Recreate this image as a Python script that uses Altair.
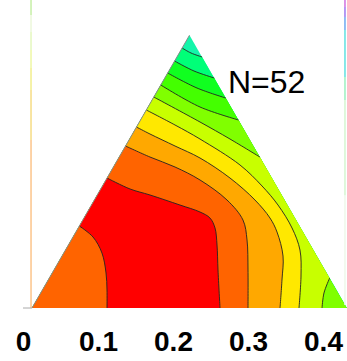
import altair as alt
import pandas as pd

# ---- triangle corners (composition units) ----
TRI_U = [0.0, 0.21, 0.42]
TRI_V = [0.0, 0.3637, 0.0]

# ---- contour lines (u = composition, v = height) ----
AB_U = [0.2001, 0.2120, 0.2268]
AB_V = [0.3467, 0.3400, 0.3347]
BC_U = [0.1901, 0.2160, 0.2430]
BC_V = [0.3293, 0.3160, 0.3067]
CD_U = [0.1809, 0.2200, 0.2583]
CD_V = [0.3133, 0.2933, 0.2800]
DE_U = [0.1717, 0.2240, 0.2753]
DE_V = [0.2973, 0.2680, 0.2507]
EF_U = [0.1624, 0.2240, 0.2640, 0.3038]
EF_V = [0.2813, 0.2480, 0.2253, 0.2013]
EF2_U = [0.3969, 0.3893, 0.3867]
EF2_V = [0.0400, 0.0200, 0.0000]
FG_U = [0.1524, 0.1907, 0.2240, 0.2773, 0.3067, 0.3280, 0.3467, 0.3573, 0.3587, 0.3560]
FG_V = [0.2640, 0.2440, 0.2253, 0.1907, 0.1627, 0.1373, 0.1067, 0.0773, 0.0440, 0.0000]
GH_U = [0.1393, 0.1573, 0.1907, 0.2240, 0.2640, 0.2973, 0.3173, 0.3267, 0.3347, 0.3333, 0.3307]
GH_V = [0.2413, 0.2320, 0.2160, 0.2000, 0.1733, 0.1440, 0.1200, 0.1013, 0.0693, 0.0373, 0.0000]
HI_U = [0.1247, 0.1573, 0.1907, 0.2240, 0.2600, 0.2813, 0.2867, 0.2880, 0.2880]
HI_V = [0.2160, 0.2013, 0.1880, 0.1707, 0.1440, 0.1173, 0.0907, 0.0507, 0.0000]
IJ_U = [0.1001, 0.1307, 0.1573, 0.1973, 0.2240, 0.2373, 0.2440, 0.2467, 0.2480, 0.2507]
IJ_V = [0.1733, 0.1587, 0.1507, 0.1373, 0.1280, 0.1200, 0.1067, 0.0840, 0.0507, 0.0000]
JI_U = [0.0631, 0.0813, 0.0933, 0.0987, 0.1000, 0.1000]
JI_V = [0.1093, 0.0947, 0.0733, 0.0467, 0.0240, 0.0000]

LEVELS = ["A", "B", "C", "D", "E", "F", "G", "H", "I", "J"]
COLORS = ["#14F5AA", "#00FF78", "#10FF20", "#44FF00", "#80FF00",
          "#C8FF00", "#FFE800", "#FFA800", "#FF6400", "#FF0000"]

TICKS = [0, 0.1, 0.2, 0.3, 0.4]
N_TEXT = ["N=52"]
N_U = [0.2613]
N_V = [0.2867]

# decorative colour strips at the picture edges
LSTRIP_U = -0.0013
LSTRIP_V = [0.4107, 0.3907, 0.3680, 0.3440, 0.3200, 0.2907, 0.2240, 0.0]
LSTRIP_C = ["#C6EFA6", "#ECF7DA", "#E4F7BE", "#EEF7A4", "#F2EE8C", "#F6DC84", "#FCC48A"]
RSTRIP_U = 0.4173
RSTRIP_V = [0.4107, 0.4013, 0.3880, 0.3707, 0.3080, 0.2773, 0.1500, 0.0040]
RSTRIP_C = ["#D070E0", "#9C78F0", "#6CA8F0", "#60E0E0", "#9CF0C0", "#D4F5D0", "#EEF8EA"]
STUB_U = [-0.012, 0.0]


def pts(us, vs):
    return list(zip(us, vs))


def dup(us, vs):
    # repeat the end points that sit on the triangle edge so the spline stays straight there
    p = pts(us, vs)
    return [p[0]] + p + [p[-1]]


L = (TRI_U[0], TRI_V[0])
T = (TRI_U[1], TRI_V[1])
R = (TRI_U[2], TRI_V[2])

polys = {
    "A": [L, L, T, T, R, R],
    "B": dup(AB_U, AB_V) + [R, R, L, L],
    "C": dup(BC_U, BC_V) + [R, R, L, L],
    "D": dup(CD_U, CD_V) + [R, R, L, L],
    "E": dup(DE_U, DE_V) + [R, R, L, L],
    "F": dup(EF_U, EF_V) + dup(EF2_U, EF2_V) + [L, L],
    "G": dup(FG_U, FG_V) + [L, L],
    "H": dup(GH_U, GH_V) + [L, L],
    "I": dup(HI_U, HI_V) + [L, L],
    "J": dup(IJ_U, IJ_V) + dup(JI_U[::-1], JI_V[::-1]),
}
rows = []
for name, p in polys.items():
    for i, (u, v) in enumerate(p):
        rows.append({"poly": name, "i": i, "u": u, "v": v})
poly_df = pd.DataFrame(rows)

lines = {"AB": (AB_U, AB_V), "BC": (BC_U, BC_V), "CD": (CD_U, CD_V),
         "DE": (DE_U, DE_V), "EF": (EF_U, EF_V), "EF2": (EF2_U, EF2_V),
         "FG": (FG_U, FG_V), "GH": (GH_U, GH_V), "HI": (HI_U, HI_V),
         "IJ": (IJ_U, IJ_V), "JI": (JI_U, JI_V)}
lrows = []
for name, (us, vs) in lines.items():
    for i, (u, v) in enumerate(zip(us, vs)):
        lrows.append({"line": name, "i": i, "u": u, "v": v})
line_df = pd.DataFrame(lrows)

edge_df = pd.DataFrame({"u": [TRI_U[0], TRI_U[1]], "v": [TRI_V[0], TRI_V[1]], "i": [0, 1]})

strip_rows = []
for k, c in enumerate(LSTRIP_C):
    strip_rows.append({"u": LSTRIP_U, "v1": LSTRIP_V[k], "v2": LSTRIP_V[k + 1], "c": c})
for k, c in enumerate(RSTRIP_C):
    strip_rows.append({"u": RSTRIP_U, "v1": RSTRIP_V[k], "v2": RSTRIP_V[k + 1], "c": c})
strip_df = pd.DataFrame(strip_rows)

stub_df = pd.DataFrame({"u": [STUB_U[0]], "u2": [STUB_U[1]], "v": [0.0]})
text_df = pd.DataFrame({"u": N_U, "v": N_V, "t": N_TEXT})

xs = alt.Scale(domain=[-0.04267, 0.42], nice=False, zero=False)
ys = alt.Scale(domain=[0.0, 0.41067], nice=False, zero=False)
xaxis = alt.Axis(values=TICKS, format=".1~f", title=None, domain=False, ticks=False,
                 tickSize=0, grid=False, labelFont="Liberation Sans", labelFontSize=28,
                 labelFontWeight="bold", labelColor="black", labelPadding=42,
                 labelBaseline="alphabetic", labelOffset=-9, labelFlush=False,
                 labelOverlap=False)
X = alt.X("u:Q", scale=xs, axis=xaxis)
Y = alt.Y("v:Q", scale=ys, axis=None)
cscale = alt.Scale(domain=LEVELS, range=COLORS)

layers = []
for name in LEVELS:
    layers.append(
        alt.Chart(poly_df).transform_filter(alt.datum.poly == name)
        .mark_line(filled=True, interpolate="catmull-rom", strokeWidth=0)
        .encode(x=X, y=Y, order=alt.Order("i:Q"),
                color=alt.Color("poly:N", scale=cscale, legend=None))
    )

layers.append(
    alt.Chart(line_df).mark_line(color="#222222", strokeWidth=0.9, interpolate="catmull-rom")
    .encode(x=X, y=Y, detail="line:N", order=alt.Order("i:Q"))
)
layers.append(
    alt.Chart(edge_df).mark_line(color="#8a8a8a", strokeWidth=1)
    .encode(x=X, y=Y, order=alt.Order("i:Q"))
)
layers.append(
    alt.Chart(strip_df).mark_rule(strokeWidth=1.5)
    .encode(x=X, y=alt.Y("v1:Q", scale=ys, axis=None), y2="v2:Q",
            color=alt.Color("c:N", scale=None, legend=None))
)
layers.append(
    alt.Chart(stub_df).mark_rule(color="#aaaaaa", strokeWidth=1)
    .encode(x=X, x2="u2:Q", y=Y)
)
layers.append(
    alt.Chart(text_df).mark_text(align="left", baseline="alphabetic", font="Liberation Sans",
                                 fontSize=32, color="black")
    .encode(x=X, y=Y, text="t:N")
)

chart = alt.layer(*layers).properties(
    width=347, height=308,
    padding={"left": 0, "top": 0, "right": 0, "bottom": 53},
    autosize=alt.AutoSizeParams(type="none"),
    background="white",
).configure_view(stroke=None)

chart.save("out.html", embed_options={"renderer": "svg", "actions": False})
